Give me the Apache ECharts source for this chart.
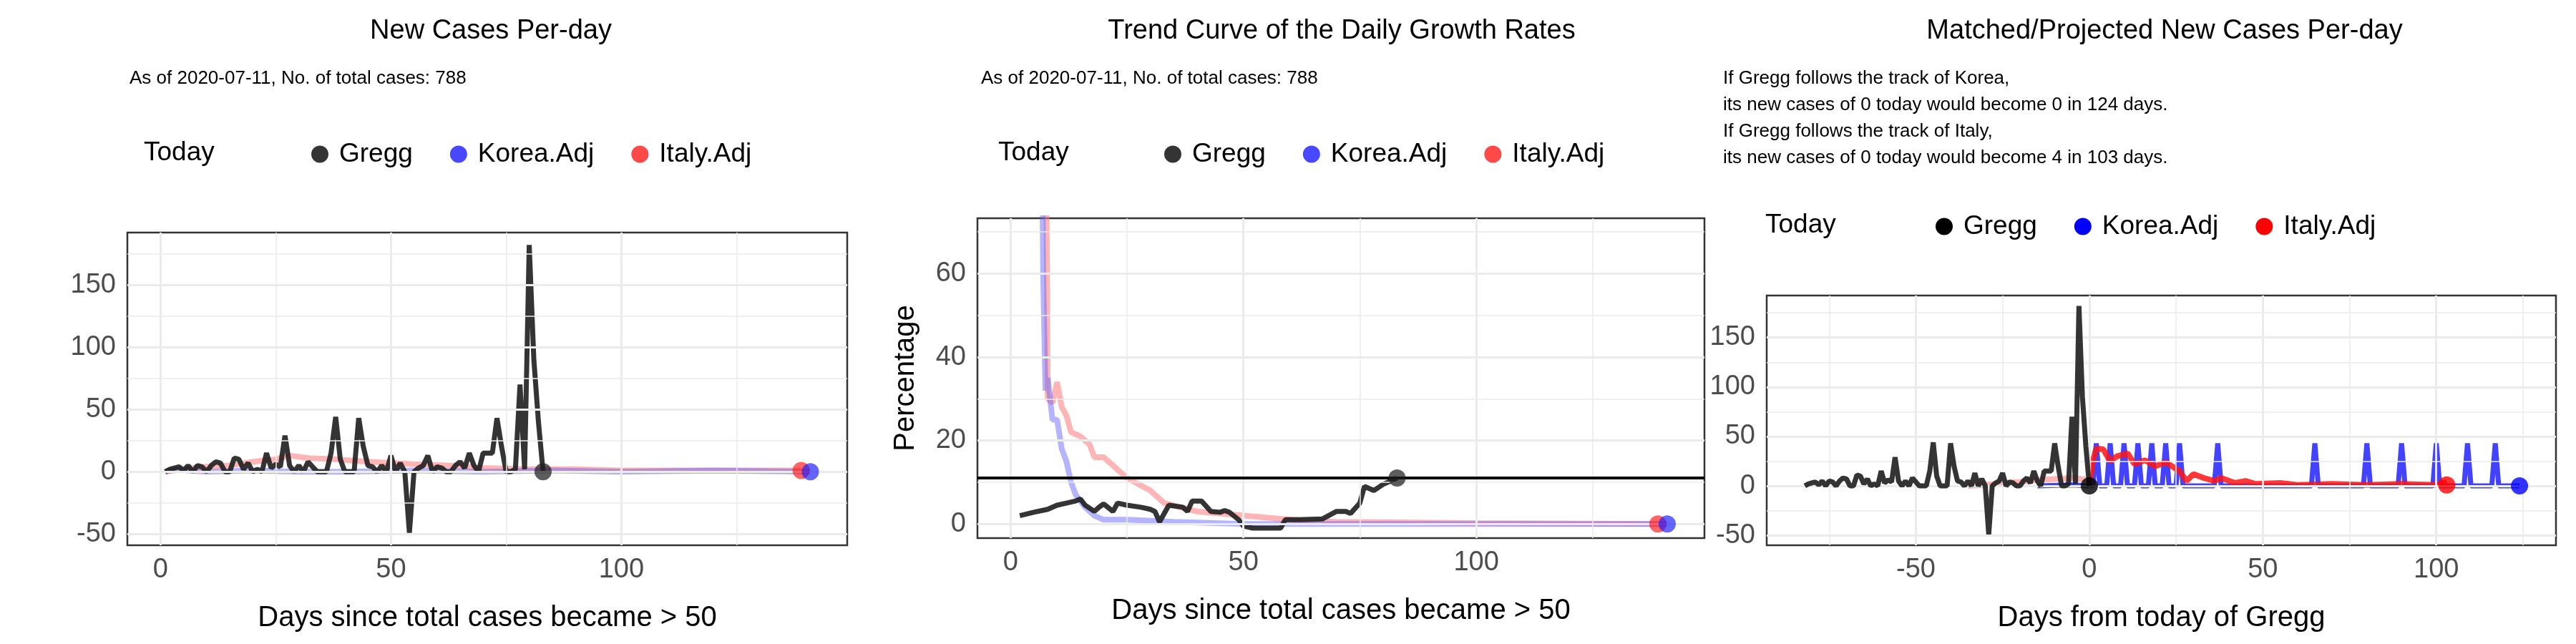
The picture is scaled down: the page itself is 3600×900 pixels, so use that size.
<!DOCTYPE html>
<html>
<head>
<meta charset="utf-8">
<script src="https://cdn.jsdelivr.net/npm/echarts@6/dist/echarts.min.js"></script>
<style>
  html, body { margin: 0; padding: 0; background: #fff; }
  #chart { width: 3600px; height: 900px; }
</style>
</head>
<body>
<div id="chart"></div>
<script>
// Gregg daily new cases, days 1..83
const greggDaily = [0, 2, 3, 4, 1, 5, 0, 5, 4, 0, 5, 8, 7, 0, 0, 11, 10, 2, 7, 0,
  2, 0, 15, 3, 6, 4, 29, 5, 0, 5, 0, 8, 4, 0, 0, 0, 15, 44, 10, 0,
  0, 0, 43, 20, 5, 4, 0, 5, 0, 13, 0, 7, 0, -49, 0, 3, 5, 13, 0, 4,
  3, 0, 0, 5, 8, 3, 15, 5, 0, 15, 15, 15, 43, 20, 0, 0, 2, 70, 2, 182,
  90, 40, 0]
// [day, value] readings
const koreaDaily = [[1, 0], [3, 2], [6, 1], [10, 0], [20, 1], [30, 0], [40, 0], [55, 1], [70, 0], [85, 1], [100, 0], [120, 1], [141, 0]]
const italyDaily = [[1, 0], [5, 2], [10, 4], [15, 5], [20, 8], [25, 10], [28, 13], [32, 11], [38, 10], [45, 8], [50, 7], [55, 6], [62, 5],
  [70, 3], [80, 2], [90, 2], [100, 1], [110, 1], [120, 1], [130, 1], [139, 1]]
const greggGrowth = [[2, 2], [5, 2.8], [8, 3.5], [10, 4.5], [12, 5], [14, 5.5], [15, 6], [16, 4.5], [18, 3], [19, 4], [20, 4.8],
  [22, 3], [23, 5], [25, 4.5], [28, 4], [30, 3.5], [31, 3], [32, 0.5], [34, 4.5], [37, 4], [38, 3], [39, 5.5], [41, 5.5],
  [43, 3], [45, 2.8], [46, 3.2], [47, 2.8], [49, 1], [50, -0.5], [52, -1], [55, -1], [58, -1], [59, 1], [62, 1], [67, 1.2],
  [70, 3], [72, 3], [73, 2.5], [75, 5], [76, 9], [78, 8], [80, 9.5], [82, 10.5], [83, 11]]
const koreaGrowth = [[1, 200], [6, 200], [7, 60], [7.5, 32], [8, 35], [9, 25], [10, 25], [11, 18], [12, 15], [13, 10], [14, 7],
  [16, 4], [18, 2], [20, 1], [25, 1], [35, 0.5], [50, 0], [70, 0], [100, 0], [141, 0]]
const italyGrowth = [[1, 200], [7, 200], [8, 30], [9, 29], [10, 34], [11, 28], [12, 26], [13, 22], [15, 21], [17, 19], [18, 16],
  [20, 16], [22, 14], [25, 11], [30, 8], [33, 5], [40, 3], [50, 2], [60, 1], [70, 0.5], [100, 0.2], [139, 0]]
const growthToday = 11
// matched / projected, x = days from today of Gregg
const koreaProj = [[-15, 0], [-5, 1], [0, 0], [1, 0], [2, 43], [3, 0], [5, 0], [6, 43], [7, 0], [9, 0], [10, 43], [11, 0],
  [13, 0], [14, 43], [15, 0], [17, 0], [18, 43], [19, 0], [21, 0], [22, 43], [23, 0], [25, 0], [26, 43], [27, 0],
  [36, 0], [37, 43], [38, 0], [64, 0], [65, 43], [66, 0], [79, 0], [80, 43], [81, 0], [89, 0], [90, 43], [91, 0],
  [99, 0], [100, 43], [101, 0], [108, 0], [109, 43], [110, 0], [116, 0], [117, 43], [118, 0], [124, 0]]
const italyPast = [[-35, 0], [-30, 1], [-25, 3], [-20, 4], [-15, 6], [-10, 7], [-5, 8], [0, 6]]
const italyProj = [[0, 0], [1, 25], [2, 38], [4, 37], [6, 25], [8, 30], [11, 33], [13, 22], [16, 26], [19, 20], [22, 24],
  [26, 15], [28, 5], [30, 12], [33, 8], [36, 5], [38, 8], [42, 3], [45, 5], [48, 2], [55, 3], [60, 1], [70, 2],
  [80, 1], [90, 2], [100, 1], [103, 4]]

const xTicks12 = [0, 50, 100], xMinor12 = [25, 75, 125]
const yTicks1 = [-50, 0, 50, 100, 150], yMinor1 = [-25, 25, 75, 125, 175]
const yTicks2 = [0, 20, 40, 60], yMinor2 = [10, 30, 50, 70]
const xTicks3 = [-50, 0, 50, 100], xMinor3 = [-75, -25, 25, 75, 125]
const projText = ['If Gregg follows the track of Korea,', 'its new cases of 0 today would become 0 in 124 days.',
  'If Gregg follows the track of Italy,', 'its new cases of 0 today would become 4 in 103 days.']

const FONT = 'Liberation Sans'
const BLACK = 'rgba(30,30,30,0.9)', BLUE_L = 'rgba(90,90,255,0.45)', RED_L = 'rgba(255,120,120,0.55)'

const chart = echarts.init(document.getElementById('chart'))

const grids = [
  { left: 178, top: 325, width: 1006, height: 437 },
  { left: 1366, top: 305, width: 1016, height: 447 },
  { left: 2469, top: 413, width: 1103, height: 349 },
].map(g => ({ ...g, show: true, borderColor: '#333', borderWidth: 2.5, backgroundColor: '#fff' }))

function axis(idx, min, max, ticks, name, type) {
  return {
    gridIndex: idx, type: 'value', min, max,
    name, nameLocation: 'middle', nameGap: type === 'x' ? 82 : 80,
    nameTextStyle: { fontFamily: FONT, fontSize: 40, color: '#000' },
    axisLine: { show: false },
    splitLine: { show: false },
    axisTick: { show: true, length: 10, lineStyle: { color: '#333', width: 2.5 }, customValues: ticks },
    axisLabel: { fontFamily: FONT, fontSize: 38, color: '#4d4d4d', margin: 16, customValues: ticks },
  }
}

function gridLines(idx, xMaj, xMin, yMaj, yMin) {
  const mk = (vals, key, w) => vals.map(v => ({ [key]: v, lineStyle: { color: '#ebebeb', width: w, type: 'solid' } }))
  return {
    type: 'line', xAxisIndex: idx, yAxisIndex: idx, data: [], silent: true, z: 0,
    markLine: {
      silent: true, symbol: 'none', label: { show: false }, animation: false,
      data: [...mk(xMin, 'xAxis', 1.5), ...mk(yMin, 'yAxis', 1.5), ...mk(xMaj, 'xAxis', 3), ...mk(yMaj, 'yAxis', 3)],
    },
  }
}

function line(idx, name, data, color, width, z) {
  return { type: 'line', name, xAxisIndex: idx, yAxisIndex: idx, data, showSymbol: false, symbol: 'none',
    lineStyle: { color, width }, itemStyle: { color }, z, animation: false }
}
function dot(idx, name, pt, color) {
  return { type: 'scatter', name, xAxisIndex: idx, yAxisIndex: idx, data: [pt], symbolSize: 24,
    itemStyle: { color }, z: 10, animation: false }
}

const greggPairs = greggDaily.map((v, i) => [i + 1, v])
const greggShift = greggDaily.map((v, i) => [i + 1 - greggDaily.length, v])

function legend(left, top, colors) {
  return {
    left, top, icon: 'circle', itemWidth: 24, itemHeight: 24, itemGap: 52,
    textStyle: { fontFamily: FONT, fontSize: 37, color: '#000', padding: [0, 0, 0, 10] },
    data: ['Gregg', 'Korea.Adj', 'Italy.Adj'].map((n, i) => ({ name: n, itemStyle: { color: colors[i] } })),
    selectedMode: false,
  }
}

const titleStyle = { fontFamily: FONT, fontSize: 38, color: '#000', fontWeight: 'normal' }
const subStyle = { fontFamily: FONT, fontSize: 26, color: '#000', fontWeight: 'normal' }
const todayStyle = { fontFamily: FONT, fontSize: 37, color: '#000', fontWeight: 'normal' }

chart.setOption({
  animation: false,
  title: [
    { text: 'New Cases Per-day', left: 681, top: 20, textAlign: 'center', textStyle: titleStyle },
    { text: 'As of 2020-07-11, No. of total cases: 788', left: 176, top: 92, textStyle: subStyle },
    { text: 'Trend Curve of the Daily Growth Rates', left: 1870, top: 20, textAlign: 'center', textStyle: titleStyle },
    { text: 'As of 2020-07-11, No. of total cases: 788', left: 1366, top: 92, textStyle: subStyle },
    { text: 'Matched/Projected New Cases Per-day', left: 3020, top: 20, textAlign: 'center', textStyle: titleStyle },
    { text: projText.join('\n'), left: 2403, top: 86, textStyle: { ...subStyle, lineHeight: 37 } },
    { text: 'Today', left: 196, top: 190, textStyle: todayStyle },
    { text: 'Today', left: 1390, top: 190, textStyle: todayStyle },
    { text: 'Today', left: 2462, top: 291, textStyle: todayStyle },
  ],
  legend: [
    legend(430, 192, [BLACK, 'rgba(40,40,255,0.85)', 'rgba(255,40,40,0.85)']),
    legend(1622, 192, [BLACK, 'rgba(40,40,255,0.85)', 'rgba(255,40,40,0.85)']),
    legend(2700, 293, ['#000', '#0000ff', '#ff0000']),
  ],
  grid: grids,
  xAxis: [
    axis(0, -7.2, 149, xTicks12, 'Days since total cases became > 50', 'x'),
    axis(1, -7.1, 149, xTicks12, 'Days since total cases became > 50', 'x'),
    axis(2, -93, 134.5, xTicks3, 'Days from today of Gregg', 'x'),
  ],
  yAxis: [
    axis(0, -59, 192, yTicks1, '', 'y'),
    axis(1, -3.4, 73.3, yTicks2, 'Percentage', 'y'),
    axis(2, -60, 192.5, yTicks1, '', 'y'),
  ],
  series: [
    gridLines(0, xTicks12, xMinor12, yTicks1, yMinor1),
    gridLines(1, xTicks12, xMinor12, yTicks2, yMinor2),
    gridLines(2, xTicks3, xMinor3, yTicks1, yMinor1),
    // panel 1
    line(0, 'Italy.Adj', italyDaily, RED_L, 8, 2),
    line(0, 'Korea.Adj', koreaDaily, BLUE_L, 8, 3),
    line(0, 'Gregg', greggPairs, BLACK, 7, 4),
    dot(0, 'Gregg', [83, 0], BLACK),
    dot(0, 'Italy.Adj', [139, 1], 'rgba(255,30,30,0.85)'),
    dot(0, 'Korea.Adj', [141, 0], 'rgba(30,30,255,0.85)'),
    // panel 2
    line(1, 'Italy.Adj', italyGrowth, RED_L, 8, 2),
    line(1, 'Korea.Adj', koreaGrowth, BLUE_L, 8, 3),
    line(1, 'Gregg', greggGrowth, BLACK, 7, 4),
    { type: 'line', xAxisIndex: 1, yAxisIndex: 1, data: [], z: 5,
      markLine: { silent: true, symbol: 'none', label: { show: false }, animation: false,
        data: [{ yAxis: growthToday, lineStyle: { color: '#000', width: 4, type: 'solid' } }] } },
    dot(1, 'Gregg', [83, growthToday], BLACK),
    dot(1, 'Italy.Adj', [139, 0], 'rgba(255,30,30,0.85)'),
    dot(1, 'Korea.Adj', [141, 0], 'rgba(30,30,255,0.85)'),
    // panel 3
    line(2, 'Italy.Adj', italyPast, RED_L, 8, 2),
    line(2, 'Korea.Adj', koreaProj, 'rgba(20,20,255,0.8)', 7, 3),
    line(2, 'Italy.Adj', italyProj, 'rgba(255,20,20,0.85)', 8, 4),
    line(2, 'Gregg', greggShift, BLACK, 7, 5),
    dot(2, 'Gregg', [0, 0], '#000'),
    dot(2, 'Italy.Adj', [103, 1], '#ff0000'),
    dot(2, 'Korea.Adj', [124, 0], '#0000ff'),
  ],
})
</script>
</body>
</html>
